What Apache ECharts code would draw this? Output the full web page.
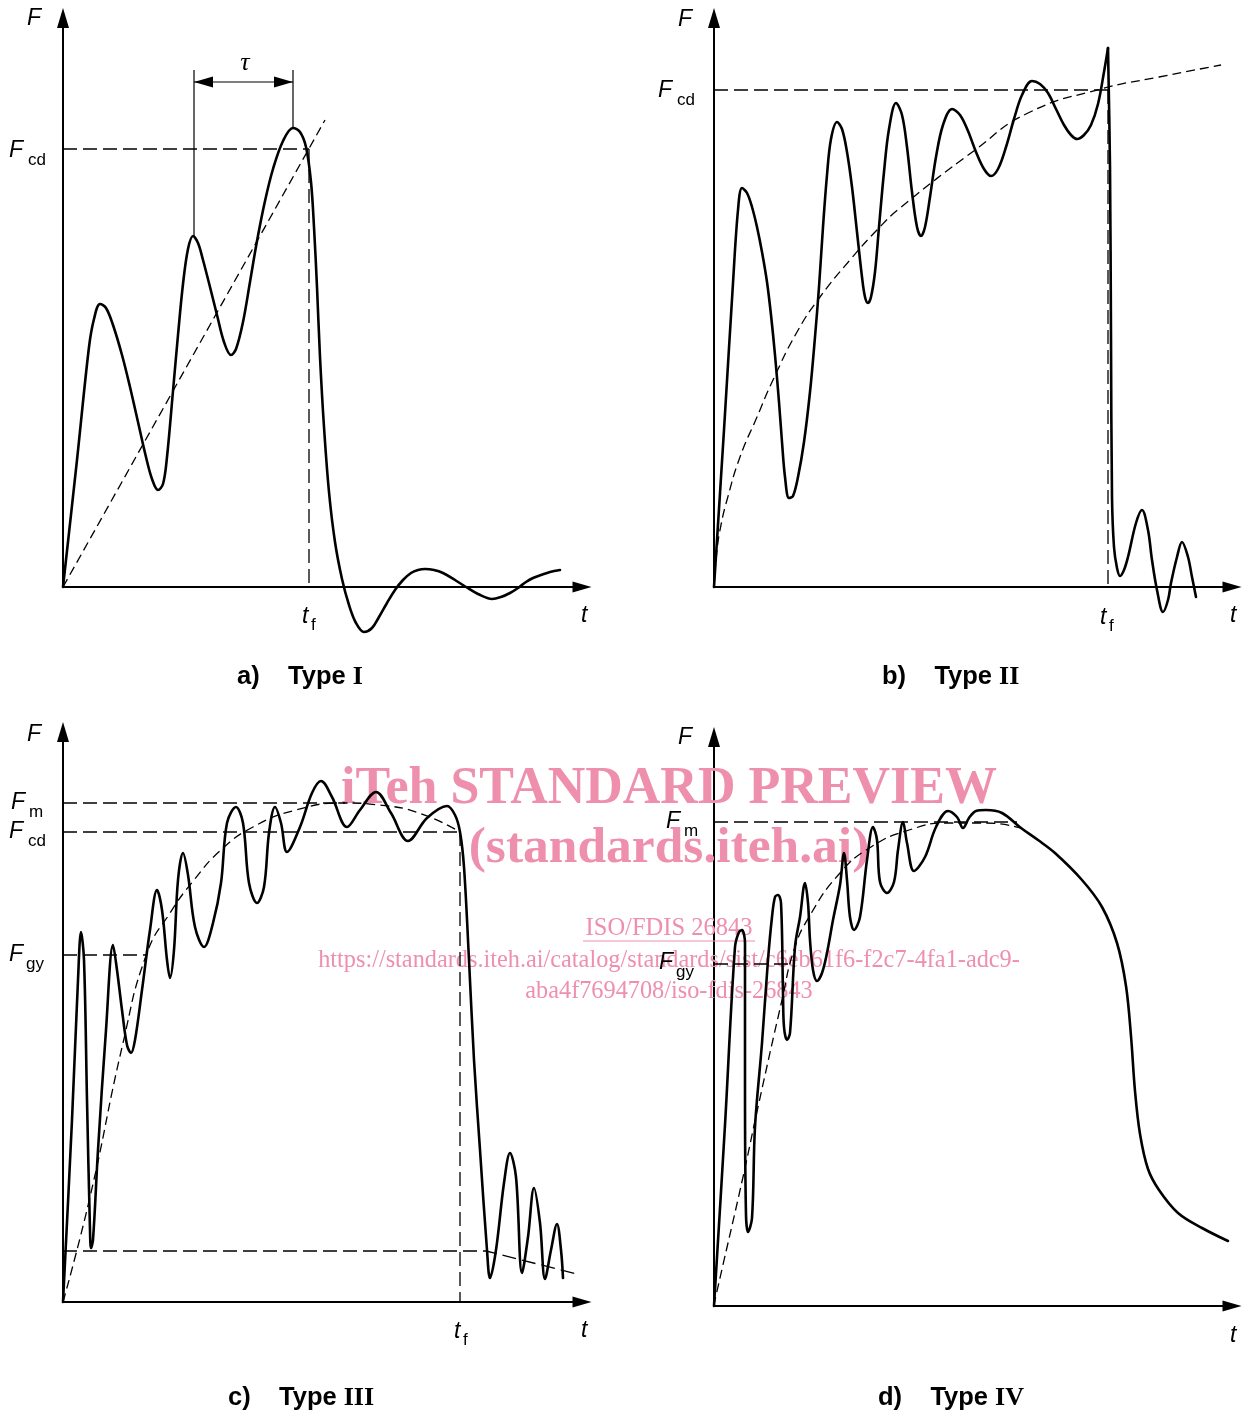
<!DOCTYPE html>
<html><head><meta charset="utf-8">
<script src="https://cdn.jsdelivr.net/npm/echarts@6/dist/echarts.min.js"></script>
<style>html,body{margin:0;padding:0;background:#fff}#c{width:1242px;height:1418px}</style>
</head><body><div id="c"></div><script>
// ---- Panel a) Type I  (t, F) in drawing units ----
const curveA = [[0,0],[14,127],[26,240],[31,268],[37,283],[43,279],[50,262],[59,232],[67,200],[75,165],[83,130],[89,108],[95,97],[100,103],[104,130],[110,196],[115,252],[120,303],[125,338],[130,351],[135,344],[140,327],[147,300],[154,272],[161,245],[168,232],[173,238],[180,265],[187,305],[194,346],[202,386],[210,418],[220,446],[230,459],[237,455],[243,440],[248,405],[251,360],[254,300],[257,230],[261,160],[266,95],[272,45],[279,8],[286,-18],[293,-36],[301,-45],[309,-41],[316,-30],[324,-16],[332,-3],[340,7],[348,14],[355,17],[362,18],[371,17],[380,14],[392,7],[403,0],[415,-7],[429,-12],[438,-10],[447,-6],[455,-1],[463,5],[470,9],[478,12],[487,15],[497,17]];
const trendA = [[0,0],[262,467]];
const fcdA = [[0,438],[246,438]];
const tfA = [[246,438],[246,0]];
const tauLeftA = [[131,351],[131,517]];
const tauRightA = [[230,459],[230,517]];
const tauDimA = [[131,230,505]];

// ---- Panel b) Type II ----
const curveBRise = [[0,0],[10,157],[19,304],[24,377],[28,399],[33,394],[38,380],[43,360],[48,335],[53,305],[57,272],[61,232],[65,185],[68,145],[71,110],[75,89],[79,91],[84,110],[90,145],[96,195],[101,250],[105,300],[109,360],[113,412],[117,448],[123,465],[128,458],[133,435],[138,400],[143,355],[148,310],[151,290],[154,284],[157,290],[161,315],[165,360],[170,415],[175,458],[182,484],[188,472],[193,440],[198,395],[203,360],[207,351],[211,360],[216,390],[222,430],[229,462],[238,478],[246,472],[254,456],[262,435],[270,418],[277,411],[284,418],[292,440],[300,468],[308,492],[318,506],[326,503],[334,494],[342,478],[350,462],[357,452],[363,448],[370,452],[377,462],[384,483],[390,515],[394,539]];
const curveBFall = [[394,539],[396,420],[397,250],[398,90],[400,40],[403,19],[406,11],[410,17],[414,30],[422,64],[428,77],[434,57],[438,27],[443,-3],[449,-25],[454,-13],[457,4],[463,30],[468,45],[474,30],[478,10],[482,-10]];
const trendB = [[0,0],[3,37],[7,62],[13,87],[26,130],[43,170],[59,207],[83,255],[106,290],[136,327],[163,357],[186,379],[261,437],[314,474],[387,498],[445,510],[507,522]];
const fcdB = [[0,497],[394,497]];
const tfB = [[394,497],[394,0]];

// ---- Panel c) Type III ----
const curveC = [[0,0],[9,182],[15,322],[18,370],[21,342],[24,202],[27,72],[28,54],[30,62],[35,152],[43,272],[50,357],[54,332],[59,292],[64,257],[68,249],[72,262],[79,312],[87,372],[94,412],[99,392],[104,342],[107,324],[111,352],[115,422],[120,449],[125,427],[132,375],[141,355],[150,379],[158,419],[164,479],[173,495],[180,479],[186,419],[194,399],[201,415],[206,469],[212,495],[218,479],[224,450],[237,475],[249,509],[258,521],[269,505],[284,475],[297,492],[313,510],[328,489],[345,461],[364,484],[384,496],[392,487],[397,470],[401,435],[406,342],[411,242],[417,152],[424,52],[427,24],[433,52],[441,119],[447,149],[453,125],[459,29],[465,65],[471,114],[477,79],[482,23],[488,52],[494,78],[498,52],[500,24]];
const trendC = [[0,0],[27,105],[60,259],[84,349],[107,389],[131,422],[158,452],[190,475],[233,492],[281,499],[316,497],[356,489],[397,470]];
const lowC = [[0,51],[423,51],[514,28]];
const fmC = [[0,499],[282,499]];
const fcdC = [[0,470],[397,470]];
const fgyC = [[0,347],[84,347]];
const tfC = [[397,470],[397,0]];

// ---- Panel d) Type IV ----
const curveD = [[0,0],[11,181],[21,359],[25,374],[28,376],[31,363],[31,216],[32,91],[34,74],[38,88],[41,179],[48,263],[54,346],[58,389],[61,409],[64,411],[67,403],[69,313],[70,279],[73,266],[76,273],[81,359],[86,389],[91,423],[94,403],[96,366],[99,336],[103,325],[108,333],[113,353],[119,386],[126,421],[130,453],[133,426],[136,389],[140,376],[146,389],[153,446],[159,479],[163,466],[166,424],[173,413],[180,424],[184,456],[189,484],[193,463],[200,435],[211,449],[222,479],[234,495],[243,489],[249,478],[255,488],[262,495],[272,496],[288,493],[307,478],[324,466],[341,453],[368,426],[388,399],[403,363],[412,320],[417,270],[421,215],[426,172],[434,137],[445,116],[464,93],[488,78],[514,65]];
const trendD = [[0,0],[1,6],[29,129],[44,199],[68,306],[80,356],[95,389],[126,433],[157,459],[195,476],[234,483],[272,483],[307,478]];
const fmD = [[0,484],[303,484]];
const fgyD = [[0,342],[76,342]];

// axis extents (drawing units)
const axisMax = [[519,569],[518,569],[519,570],[518,569]];

const SANS = '"Liberation Sans", Arial, sans-serif';
const SERIF = '"Liberation Serif", "Times New Roman", serif';
const PINK = '#EE8FAD';

const grids = [
  {left:63, top:18, width:519, height:569},
  {left:714, top:18, width:518, height:569},
  {left:63, top:732, width:519, height:570},
  {left:714, top:737, width:518, height:569}
];
const axLine = (sym) => ({show:true, onZero:false, symbol:['none','triangle'], symbolSize:sym, lineStyle:{color:'#000', width:2}});
const xAxes = axisMax.map((m,i)=>({type:'value', gridIndex:i, min:0, max:m[0], axisLine:axLine([11,19]), axisTick:{show:false}, axisLabel:{show:false}, splitLine:{show:false}}));
const yAxes = axisMax.map((m,i)=>({type:'value', gridIndex:i, min:0, max:m[1], axisLine:axLine([12,20]), axisTick:{show:false}, axisLabel:{show:false}, splitLine:{show:false}}));

function solid(i, data, w) {
  return {type:'line', xAxisIndex:i, yAxisIndex:i, data, showSymbol:false, symbol:'none', smooth:0.35, clip:false, silent:true, z:5,
    lineStyle:{color:'#000', width:w||2.6, cap:'round', join:'round'}};
}
function dashed(i, data, dash, smooth, w) {
  return {type:'line', xAxisIndex:i, yAxisIndex:i, data, showSymbol:false, symbol:'none', smooth:smooth||false, clip:false, silent:true, z:3,
    lineStyle:{color:'#000', width:w||1.3, type:dash}};
}
function thin(i, data) {
  return {type:'line', xAxisIndex:i, yAxisIndex:i, data, showSymbol:false, symbol:'none', clip:false, silent:true, z:3,
    lineStyle:{color:'#000', width:1.2}};
}
const LD = [14,6], TD = [9,5];

const series = [
  // a
  dashed(0, trendA, TD), dashed(0, fcdA, LD), dashed(0, tfA, LD),
  thin(0, tauLeftA), thin(0, tauRightA),
  {type:'custom', xAxisIndex:0, yAxisIndex:0, data:tauDimA, silent:true, z:4,
   renderItem:function(params, api){
     const p1 = api.coord([api.value(0), api.value(2)]);
     const p2 = api.coord([api.value(1), api.value(2)]);
     const L = 19, H = 5.5;
     return {type:'group', children:[
       {type:'line', shape:{x1:p1[0], y1:p1[1], x2:p2[0], y2:p2[1]}, style:{stroke:'#000', lineWidth:1.2}},
       {type:'polygon', shape:{points:[[p1[0],p1[1]],[p1[0]+L,p1[1]-H],[p1[0]+L,p1[1]+H]]}, style:{fill:'#000'}},
       {type:'polygon', shape:{points:[[p2[0],p2[1]],[p2[0]-L,p2[1]-H],[p2[0]-L,p2[1]+H]]}, style:{fill:'#000'}}
     ]};
   }},
  solid(0, curveA),
  // b
  dashed(1, trendB, TD, 0.5), dashed(1, fcdB, LD), dashed(1, tfB, LD),
  solid(1, curveBRise), solid(1, curveBFall),
  // c
  dashed(2, trendC, TD, 0.5), dashed(2, lowC, LD), dashed(2, fmC, LD), dashed(2, fcdC, LD), dashed(2, fgyC, LD), dashed(2, tfC, LD),
  solid(2, curveC),
  // d
  dashed(3, trendD, TD, 0.5), dashed(3, fmD, LD), dashed(3, fgyD, LD),
  solid(3, curveD)
];

function txt(x, y, text, font, extra) {
  return {type:'text', x, y, z:50, silent:true, style:Object.assign({text, font, fill:'#000', align:'left', verticalAlign:'middle'}, extra||{})};
}
const FI = 'italic 23px ' + SANS, SUB = '17px ' + SANS;
function sym(x, y, sub, subX) {
  const a = [txt(x, y, 'F', FI)];
  if (sub) a.push(txt(subX, y + 9, sub, SUB));
  return a;
}
function tsub(x, y, sub) {
  const a = [txt(x, y, 't', FI)];
  if (sub) a.push(txt(x + 9, y + 8, sub, SUB));
  return a;
}
function caption(x, y, letter, roman) {
  return {type:'text', x, y, z:50, silent:true, style:{text:'{b|' + letter + ')    Type }{r|' + roman + '}', fill:'#000', align:'left', verticalAlign:'middle',
    rich:{b:{fontSize:25.5, fontWeight:'bold', fontFamily:SANS, fill:'#000'}, r:{fontSize:26, fontWeight:'bold', fontFamily:SERIF, fill:'#000'}}}};
}
const wmText = (x, y, text, font) => ({type:'text', x, y, z:1, silent:true, style:{text, font, fill:PINK, align:'center', verticalAlign:'middle'}});

const graphic = [
  wmText(669, 790, 'iTeh STANDARD PREVIEW', 'bold 52px ' + SERIF),
  wmText(669, 849, '(standards.iteh.ai)', 'bold 51.5px ' + SERIF),
  wmText(669, 929, 'ISO/FDIS 26843', '24.5px ' + SERIF),
  {type:'line', z:1, silent:true, shape:{x1:583, y1:941, x2:755, y2:941}, style:{stroke:PINK, lineWidth:1.2}},
  wmText(669, 961, 'https://standards.iteh.ai/catalog/standards/sist/c6eb61f6-f2c7-4fa1-adc9-', '24.3px ' + SERIF),
  wmText(669, 992, 'aba4f7694708/iso-fdis-26843', '24.3px ' + SERIF),
  // a
  ...sym(27, 19), ...sym(9, 151, 'cd', 28),
  txt(245, 63, 'τ', 'italic 26px ' + SERIF, {align:'center'}),
  ...tsub(302, 617, 'f'), ...tsub(581, 616),
  caption(237, 677, 'a', 'I'),
  // b
  ...sym(678, 20), ...sym(658, 91, 'cd', 677),
  ...tsub(1100, 618, 'f'), ...tsub(1230, 616),
  caption(882, 677, 'b', 'II'),
  // c
  ...sym(27, 735), ...sym(11, 803, 'm', 29), ...sym(9, 832, 'cd', 28), ...sym(9, 955, 'gy', 26),
  ...tsub(454, 1332, 'f'), ...tsub(581, 1331),
  caption(228, 1398, 'c', 'III'),
  // d
  ...sym(678, 738), ...sym(666, 822, 'm', 684), ...sym(659, 963, 'gy', 676),
  ...tsub(1230, 1336),
  caption(878, 1398, 'd', 'IV')
];

const chart = echarts.init(document.getElementById('c'), null, {renderer:'canvas'});
chart.setOption({
  backgroundColor:'#fff', animation:false,
  grid:grids, xAxis:xAxes, yAxis:yAxes, series, graphic
});
</script></body></html>
